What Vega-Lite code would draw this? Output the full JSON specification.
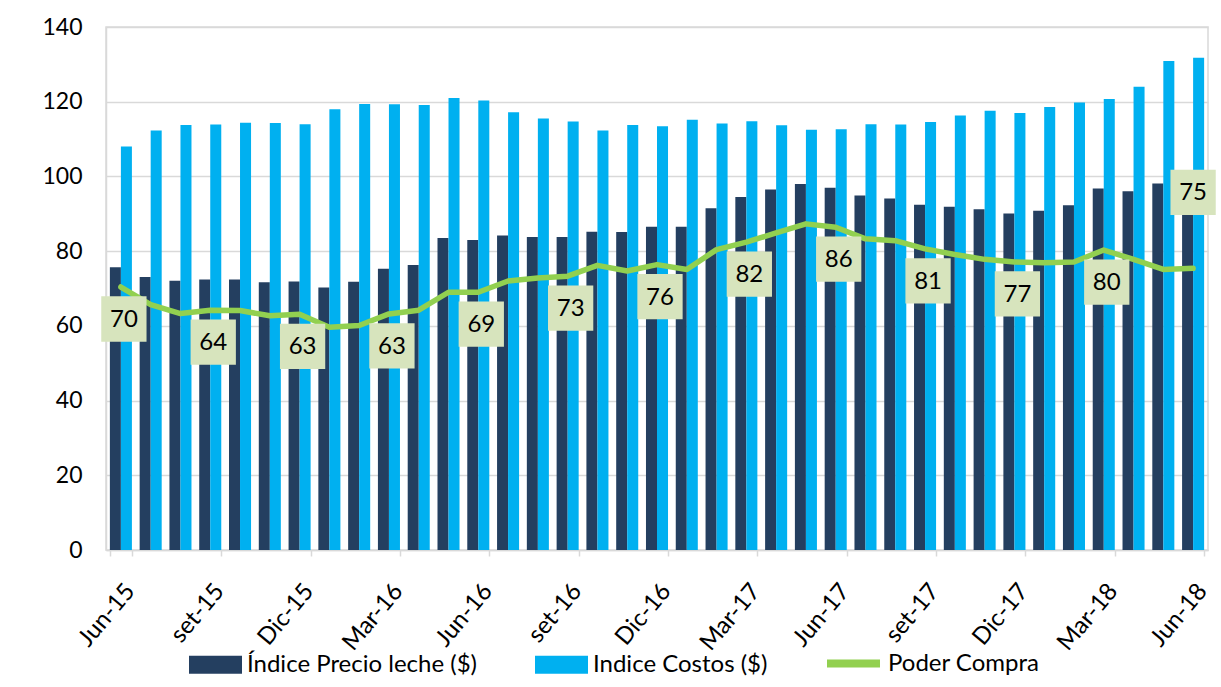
{
  "$schema": "https://vega.github.io/schema/vega-lite/v6.json",
  "width": 1102,
  "height": 523,
  "autosize": "none",
  "padding": {"left": 106, "top": 27, "right": 13, "bottom": 137},
  "background": "white",
  "config": {
    "font": "Lato",
    "view": {"stroke": "#d9d9d9", "strokeWidth": 1.5}
  },
  "data": {
    "values": [
      {"mes": "Jun-15", "precio": 75.7, "costos": 108.0, "poder": 70.4},
      {"mes": "Jul-15", "precio": 73.1, "costos": 112.3, "poder": 65.7},
      {"mes": "Ago-15", "precio": 72.1, "costos": 113.8, "poder": 63.3},
      {"mes": "set-15", "precio": 72.4, "costos": 113.9, "poder": 64.2},
      {"mes": "Oct-15", "precio": 72.4, "costos": 114.4, "poder": 64.1},
      {"mes": "Nov-15", "precio": 71.7, "costos": 114.3, "poder": 62.7},
      {"mes": "Dic-15", "precio": 71.9, "costos": 114.0, "poder": 63.1},
      {"mes": "Ene-16", "precio": 70.3, "costos": 118.0, "poder": 59.6},
      {"mes": "Feb-16", "precio": 71.8, "costos": 119.4, "poder": 60.1},
      {"mes": "Mar-16", "precio": 75.3, "costos": 119.3, "poder": 63.2},
      {"mes": "Abr-16", "precio": 76.3, "costos": 119.1, "poder": 64.2},
      {"mes": "May-16", "precio": 83.5, "costos": 121.0, "poder": 69.0},
      {"mes": "Jun-16", "precio": 83.0, "costos": 120.3, "poder": 69.0},
      {"mes": "Jul-16", "precio": 84.2, "costos": 117.2, "poder": 72.0},
      {"mes": "Ago-16", "precio": 83.8, "costos": 115.5, "poder": 72.8},
      {"mes": "set-16", "precio": 83.8, "costos": 114.7, "poder": 73.3},
      {"mes": "Oct-16", "precio": 85.2, "costos": 112.3, "poder": 76.2},
      {"mes": "Nov-16", "precio": 85.1, "costos": 113.8, "poder": 74.7},
      {"mes": "Dic-16", "precio": 86.5, "costos": 113.4, "poder": 76.4},
      {"mes": "Ene-17", "precio": 86.5, "costos": 115.2, "poder": 75.1},
      {"mes": "Feb-17", "precio": 91.5, "costos": 114.2, "poder": 80.4},
      {"mes": "Mar-17", "precio": 94.5, "costos": 114.8, "poder": 82.4},
      {"mes": "Abr-17", "precio": 96.5, "costos": 113.7, "poder": 84.9},
      {"mes": "May-17", "precio": 98.0, "costos": 112.5, "poder": 87.3},
      {"mes": "Jun-17", "precio": 97.0, "costos": 112.6, "poder": 86.4},
      {"mes": "Jul-17", "precio": 94.9, "costos": 114.0, "poder": 83.3},
      {"mes": "Ago-17", "precio": 94.1, "costos": 113.9, "poder": 82.8},
      {"mes": "set-17", "precio": 92.4, "costos": 114.6, "poder": 80.6},
      {"mes": "Oct-17", "precio": 91.9, "costos": 116.3, "poder": 79.1},
      {"mes": "Nov-17", "precio": 91.2, "costos": 117.6, "poder": 77.8},
      {"mes": "Dic-17", "precio": 90.1, "costos": 117.0, "poder": 77.1},
      {"mes": "Ene-18", "precio": 90.8, "costos": 118.6, "poder": 76.9},
      {"mes": "Feb-18", "precio": 92.3, "costos": 119.8, "poder": 77.1},
      {"mes": "Mar-18", "precio": 96.8, "costos": 120.7, "poder": 80.3},
      {"mes": "Abr-18", "precio": 96.0, "costos": 124.0, "poder": 77.8},
      {"mes": "May-18", "precio": 98.1, "costos": 130.9, "poder": 75.1},
      {"mes": "Jun-18", "precio": 99.0, "costos": 131.8, "poder": 75.4}
    ]
  },
  "encoding": {
    "x": {
      "field": "mes",
      "type": "ordinal",
      "sort": null,
      "title": null,
      "scale": {"paddingInner": 0.26, "paddingOuter": 0.13},
      "axis": {
        "values": ["Jun-15", "set-15", "Dic-15", "Mar-16", "Jun-16", "set-16", "Dic-16", "Mar-17", "Jun-17", "set-17", "Dic-17", "Mar-18", "Jun-18"],
        "labelAngle": -50,
        "labelAlign": "right",
        "labelBaseline": "top",
        "labelFontSize": 24,
        "labelColor": "#000000",
        "labelPadding": 23,
        "tickBand": "extent",
        "tickExtra": false,
        "tickColor": "#d9d9d9",
        "tickSize": 6,
        "tickWidth": 1.5,
        "domainColor": "#d9d9d9",
        "domainWidth": 1.5,
        "grid": false
      }
    }
  },
  "layer": [
    {
      "transform": [{"fold": ["precio", "costos"], "as": ["serie", "valor"]}],
      "mark": {"type": "bar"},
      "encoding": {
        "y": {
          "field": "valor",
          "type": "quantitative",
          "title": null,
          "scale": {"domain": [0, 140], "nice": false},
          "axis": {
            "values": [0, 20, 40, 60, 80, 100, 120, 140],
            "labelFontSize": 23,
            "labelColor": "#000000",
            "labelPadding": 24,
            "ticks": false,
            "domainColor": "#d9d9d9",
            "domainWidth": 1.5,
            "gridColor": "#d9d9d9",
            "gridWidth": 1.5
          }
        },
        "xOffset": {"field": "serie", "type": "nominal", "sort": ["precio", "costos"], "scale": {"paddingInner": 0, "paddingOuter": 0}},
        "fill": {
          "field": "serie",
          "type": "nominal",
          "sort": ["precio", "costos"],
          "scale": {"domain": ["precio", "costos"], "range": ["#243f60", "#00b0f0"]},
          "legend": {
            "orient": "none",
            "legendX": 83,
            "legendY": 611,
            "direction": "horizontal",
            "title": null,
            "labelExpr": "datum.label == 'precio' ? 'Índice Precio leche ($)' : 'Indice Costos ($)'",
            "labelFontSize": 24,
            "labelLimit": 500,
            "labelColor": "#000000",
            "labelOffset": 5,
            "columnPadding": 57,
            "symbolType": "M-1,-0.34H1V0.34H-1Z",
            "symbolSize": 2809,
            "symbolStrokeWidth": 0
          }
        }
      }
    },
    {
      "mark": {"type": "line", "strokeWidth": 5.5, "strokeCap": "round", "strokeJoin": "round"},
      "encoding": {
        "y": {"field": "poder", "type": "quantitative"},
        "stroke": {
          "datum": "Poder Compra",
          "type": "nominal",
          "scale": {"domain": ["Poder Compra"], "range": ["#92d050"]},
          "legend": {
            "orient": "none",
            "legendX": 717,
            "legendY": 606,
            "title": null,
            "labelFontSize": 24,
            "labelLimit": 500,
            "labelColor": "#000000",
            "labelOffset": 4,
            "symbolType": "stroke",
            "symbolSize": 2809,
            "symbolStrokeWidth": 8
          }
        }
      }
    },
    {
      "transform": [{"filter": {"field": "mes", "oneOf": ["Jun-15", "set-15", "Dic-15", "Mar-16", "Jun-16", "set-16", "Dic-16", "Mar-17", "Jun-17", "set-17", "Dic-17", "Mar-18"]}}],
      "mark": {"type": "point", "shape": "square", "filled": true, "size": 2050, "color": "#d7e4bd", "opacity": 1, "yOffset": 32, "xOffset": 3},
      "encoding": {"y": {"field": "poder", "type": "quantitative"}}
    },
    {
      "transform": [{"filter": {"field": "mes", "oneOf": ["Jun-18"]}}],
      "mark": {"type": "point", "shape": "square", "filled": true, "size": 2050, "color": "#d7e4bd", "opacity": 1, "yOffset": -76},
      "encoding": {"y": {"field": "poder", "type": "quantitative"}}
    },
    {
      "transform": [{"filter": {"field": "mes", "oneOf": ["Jun-15", "set-15", "Dic-15", "Mar-16", "Jun-16", "set-16", "Dic-16", "Mar-17", "Jun-17", "set-17", "Dic-17", "Mar-18"]}}],
      "mark": {"type": "text", "fontSize": 24, "color": "#000000", "baseline": "middle", "align": "center", "yOffset": 33, "xOffset": 3},
      "encoding": {
        "y": {"field": "poder", "type": "quantitative"},
        "text": {"field": "poder", "type": "quantitative", "format": ".0f"}
      }
    },
    {
      "transform": [{"filter": {"field": "mes", "oneOf": ["Jun-18"]}}],
      "mark": {"type": "text", "fontSize": 24, "color": "#000000", "baseline": "middle", "align": "center", "yOffset": -75},
      "encoding": {
        "y": {"field": "poder", "type": "quantitative"},
        "text": {"field": "poder", "type": "quantitative", "format": ".0f"}
      }
    }
  ]
}
